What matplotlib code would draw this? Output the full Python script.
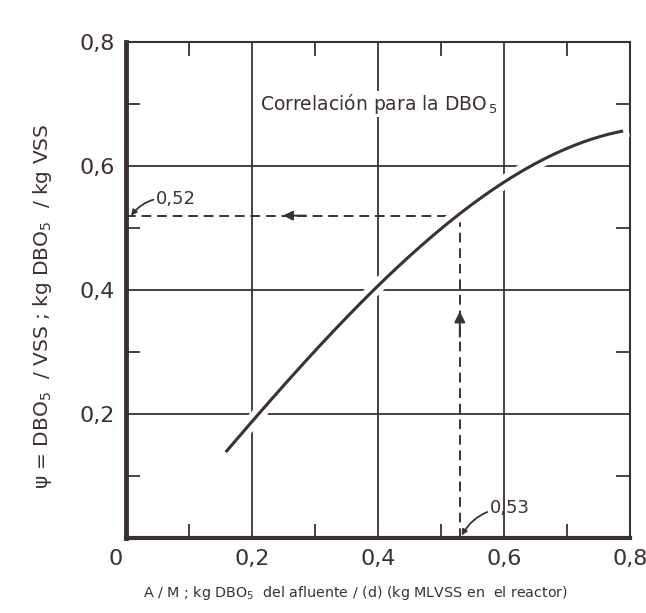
import matplotlib.pyplot as plt
import matplotlib.patheffects as pe
import matplotlib.transforms as mtransforms
import numpy as np

plt.rcParams['font.family'] = ['DejaVu Sans']

# curve
curve_x = [0.16, 0.207, 0.308, 0.387, 0.40, 0.467, 0.527, 0.60, 0.641, 0.705, 0.787]
curve_y = [0.14, 0.20, 0.298, 0.40, 0.413, 0.468, 0.52, 0.572, 0.60, 0.629, 0.657]

# reading off the chart
read_x = 0.53
read_y = 0.52

major_ticks = [0, 0.2, 0.4, 0.6, 0.8]
x_tick_labels = ['0', '0,2', '0,4', '0,6', '0,8']
y_tick_labels = ['', '0,2', '0,4', '0,6', '0,8']
minor_ticks = [0.1, 0.3, 0.5, 0.7]

ink = '#3b3039'

fig = plt.figure(figsize=(6.46, 6.13), dpi=100)
ax = fig.add_axes([0.195, 0.1223, 0.78, 0.8092])
ax.set_xlim(0, 0.8)
ax.set_ylim(0, 0.8)

# grid
for v in [0.2, 0.4, 0.6]:
    ax.axvline(v, color=ink, lw=1.3, zorder=1)
    ax.axhline(v, color=ink, lw=1.3, zorder=1)

# smooth curve through read points
xs = np.linspace(curve_x[0], curve_x[-1], 200)
coef = np.polyfit(curve_x, curve_y, 3)
ys = np.polyval(coef, xs)
ax.plot(xs, ys, color=ink, lw=2.2, zorder=4,
        path_effects=[pe.Stroke(linewidth=10, foreground='white'), pe.Normal()])

# dashed reading lines
ax.plot([read_x, read_x], [0, read_y], color=ink, lw=1.4, ls=(0, (5, 3)), zorder=3)
ax.plot([0, read_x], [read_y, read_y], color=ink, lw=1.4, ls=(0, (5, 3)), zorder=3)
ax.annotate('', xy=(read_x, 0.37), xytext=(read_x, 0.32),
            arrowprops=dict(arrowstyle='-|>', color=ink, lw=1.4, mutation_scale=16), zorder=5)
ax.annotate('', xy=(0.245, read_y), xytext=(0.29, read_y),
            arrowprops=dict(arrowstyle='-|>', color=ink, lw=1.4, mutation_scale=14), zorder=5)

# value labels with leaders
ax.annotate('0,52', xy=(0.008, read_y), xytext=(0.048, 0.547), fontsize=13, color=ink,
            va='center', ha='left',
            arrowprops=dict(arrowstyle='-|>', color=ink, lw=1.3, mutation_scale=8,
                            connectionstyle='arc3,rad=0.3', shrinkA=0, shrinkB=0))
ax.annotate('0,53', xy=(read_x + 0.003, 0.004), xytext=(0.578, 0.048), fontsize=13, color=ink,
            va='center', ha='left',
            arrowprops=dict(arrowstyle='-|>', color=ink, lw=1.3, mutation_scale=8,
                            connectionstyle='arc3,rad=0.3', shrinkA=0, shrinkB=0))

ax.text(0.213, 0.70, 'Correlación para la DBO$_{\\,5}$', fontsize=13.5, color=ink,
        va='center', ha='left', zorder=6,
        bbox=dict(facecolor='white', edgecolor='none', pad=1))

# ticks
ax.set_xticks(major_ticks)
ax.set_xticklabels(x_tick_labels)
ax.set_yticks(major_ticks)
ax.set_yticklabels(y_tick_labels)
ax.set_xticks(minor_ticks, minor=True)
ax.set_yticks(minor_ticks, minor=True)
ax.tick_params(which='major', length=0, labelsize=16, labelcolor=ink, pad=8)
ax.tick_params(which='minor', direction='in', length=10, width=1.3, color=ink,
               top=True, right=True)
# the "0" sits a little left of the corner in the original
zero_lbl = ax.get_xticklabels()[0]
zero_lbl.set_transform(zero_lbl.get_transform() +
                       mtransforms.ScaledTranslation(-10 / 100, 0, fig.dpi_scale_trans))

for side, w in [('left', 3.5), ('bottom', 3.0), ('top', 1.5), ('right', 1.5)]:
    ax.spines[side].set_linewidth(w)
    ax.spines[side].set_color(ink)

fig.text(0.066, 0.50, 'ψ = DBO$_5$  / VSS ; kg DBO$_5$  / kg VSS', rotation=90,
         fontsize=14.5, color=ink, ha='center', va='center')
fig.text(0.55, 0.033, 'A / M ; kg DBO$_5$  del afluente / (d) (kg MLVSS en  el reactor)',
         fontsize=10.3, color=ink, ha='center', va='center')

fig.savefig('out.png', dpi=100)
